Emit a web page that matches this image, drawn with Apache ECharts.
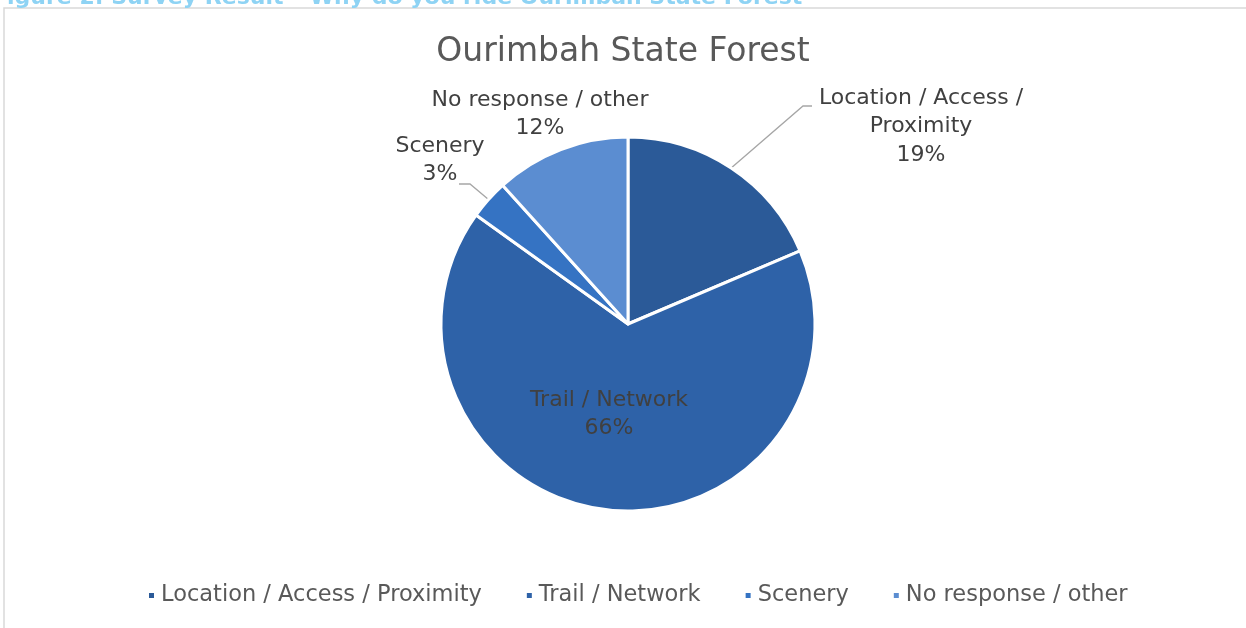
<!DOCTYPE html>
<html lang="en">
<head>
    <meta charset="UTF-8">
    <title>ourimbah</title>
    <script src="https://cdn.jsdelivr.net/npm/echarts@6/dist/echarts.min.js"></script>
    <style>
        body { margin: 0; background: #fff; }
    </style>
</head>
<body>
<div id="main" style="width: 1246px;height:628px;"></div>
<script>
    // survey shares (%)
    var categories = ["Location / Access / Proximity", "Trail / Network", "Scenery", "No response / other"];
    var values = [18.6, 66.3, 3.4, 11.7];
    var colors = ["#2b5a98", "#2e62a8", "#3573c3", "#5b8dd1"];

    // where Excel put the labels (center x, top y) and the leader line bend
    var labelSpots = {
        0: {at: [921, 84], bend: [[803, 106], [812, 106]]},
        1: {at: [609, 386]},
        2: {at: [440, 132], bend: [[470, 184], [459, 184]]},
        3: {at: [540, 86]}
    };

    var chart = echarts.init(document.getElementById("main"));
    var font = "'DejaVu Sans', sans-serif";

    var pieData = categories.map(function (name, i) {
        var item = {name: name, value: values[i], itemStyle: {color: colors[i]}};
        if (i === 1) item.label = {position: "inside"};
        if (i === 3) item.labelLine = {show: false};
        return item;
    });

    var option = {
        backgroundColor: "#fff",
        animation: false,
        title: {
            text: "Ourimbah State Forest",
            left: "center",
            top: 31,
            textStyle: {fontFamily: font, fontSize: 33, fontWeight: "normal", color: "#595959"}
        },
        legend: {
            bottom: 16,
            left: 142,
            itemWidth: 7,
            itemHeight: 7,
            itemGap: 43,
            icon: "rect",
            textStyle: {fontFamily: font, fontSize: 22.5, color: "#595959", padding: [0, 0, 0, 1]},
            data: categories
        },
        graphic: [
            {
                type: "rect",
                shape: {x: 4, y: 8, width: 1400, height: 700},
                style: {fill: "none", stroke: "#d9d9d9", lineWidth: 1.5},
                silent: true
            },
            {
                type: "text",
                x: -8,
                y: 9,
                style: {
                    text: "Figure 2: Survey Result \u2013 Why do you ride Ourimbah State Forest",
                    font: "bold 22px " + font,
                    fill: "#8ed3f4",
                    verticalAlign: "bottom"
                }
            }
        ],
        series: [{
            type: "pie",
            center: [628, 324],
            radius: 187,
            startAngle: 90,
            clockwise: true,
            itemStyle: {borderColor: "#fff", borderWidth: 3},
            label: {
                show: true,
                fontFamily: font,
                fontSize: 22,
                lineHeight: 28.5,
                color: "#404040",
                align: "center",
                formatter: function (p) {
                    var name = p.dataIndex === 0 ? "Location / Access /\nProximity" : p.name;
                    return name + "\n" + Math.round(p.percent) + "%";
                }
            },
            labelLine: {
                show: true,
                length: 10,
                length2: 10,
                lineStyle: {color: "#a6a6a6", width: 1.3}
            },
            labelLayout: function (p) {
                var spot = labelSpots[p.dataIndex];
                if (!spot) return {};
                var out = {x: spot.at[0], y: spot.at[1], align: "center", verticalAlign: "top"};
                if (spot.bend && p.labelLinePoints) {
                    out.labelLinePoints = [p.labelLinePoints[0]].concat(spot.bend);
                }
                return out;
            },
            data: pieData
        }]
    };
    chart.setOption(option);
</script>
</body>
</html>
